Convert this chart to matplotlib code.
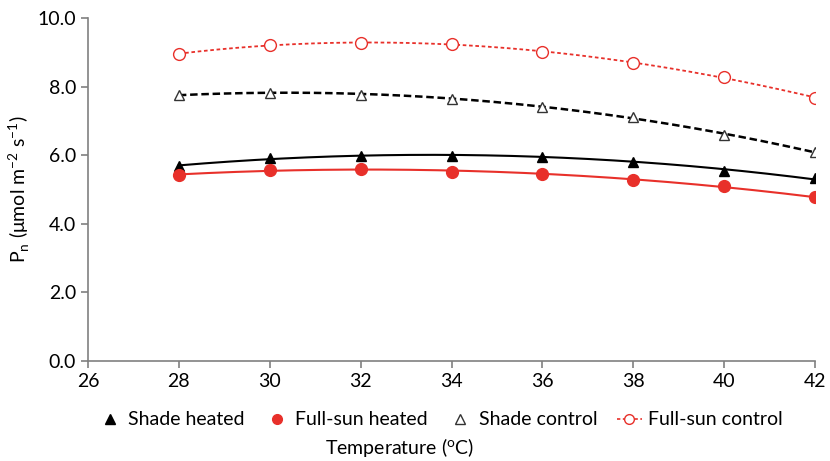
import numpy as np
import matplotlib
matplotlib.use("Agg")
import matplotlib.pyplot as plt
from matplotlib.lines import Line2D

plt.rcParams['font.family'] = ['Lato', 'DejaVu Sans']

temps = [28, 30, 32, 34, 36, 38, 40, 42]
shade_heated = [5.67, 5.93, 5.99, 5.99, 5.96, 5.81, 5.55, 5.32]
fullsun_heated = [5.41, 5.58, 5.61, 5.52, 5.44, 5.29, 5.09, 4.77]
shade_control = [7.76, 7.82, 7.76, 7.65, 7.41, 7.12, 6.60, 6.08]
fullsun_control = [8.95, 9.22, 9.27, 9.24, 9.01, 8.69, 8.28, 7.67]

xticks = [26, 28, 30, 32, 34, 36, 38, 40, 42]
yticks = [0, 2, 4, 6, 8, 10]

fig = plt.figure(figsize=(8.3, 4.61), dpi=100)
ax = fig.add_axes([0.106, 0.217, 0.876, 0.744])

RED = '#e8302a'
xs = np.linspace(28, 42, 200)

def quad(y):
    c = np.polyfit(temps, y, 2)
    return np.polyval(c, xs)

ax.plot(xs, quad(shade_heated), color='black', lw=1.5, zorder=2)
ax.plot(xs, quad(fullsun_heated), color=RED, lw=1.5, zorder=2)
ax.plot(xs, quad(shade_control), color='black', lw=1.8, ls=(0, (3, 1.5)), zorder=2)
c3 = np.polyfit(temps, fullsun_control, 3)
ax.plot(xs, np.polyval(c3, xs), color=RED, lw=1.3, ls=(0, (2, 1.5)), zorder=2)

ax.plot(temps, shade_heated, ls='none', marker='^', ms=7.5, color='black', zorder=3)
ax.plot(temps, fullsun_heated, ls='none', marker='o', ms=8.5, color=RED, zorder=3)
ax.plot(temps, shade_control, ls='none', marker='^', ms=7.5, mfc='white', mec='#333333', mew=1, zorder=3)
ax.plot(temps, fullsun_control, ls='none', marker='o', ms=8.5, mfc='white', mec=RED, mew=1, zorder=3)

ax.set_xlim(26, 42)
ax.set_ylim(0, 10)
ax.set_xticks(xticks)
ax.set_xticklabels([str(t) for t in xticks])
ax.set_yticks(yticks)
ax.set_yticklabels([f"{v:.1f}" for v in yticks])
for s in ['top', 'right']:
    ax.spines[s].set_visible(False)
for s in ['left', 'bottom']:
    ax.spines[s].set_color('#808080')
    ax.spines[s].set_linewidth(1.2)
ax.tick_params(axis='both', colors='#808080', labelcolor='black', labelsize=14, length=5, width=1.2)
ax.set_ylabel(r'P$_\mathregular{n}$ ($\mathregular{\mu}$mol m$^\mathregular{-2}$ s$^\mathregular{-1}$)', fontsize=14)

handles = [
    Line2D([], [], ls='none', marker='^', ms=6.5, color='black'),
    Line2D([], [], ls='none', marker='o', ms=7, color=RED),
    Line2D([], [], ls='none', marker='^', ms=6.5, mfc='white', mec='#333333', mew=1),
    Line2D([], [], color=RED, lw=1.2, ls=(0, (2, 1.5)), marker='o', ms=7, mfc='white', mec=RED, mew=1),
]
labels = ['Shade heated', 'Full-sun heated', 'Shade control', 'Full-sun control']
fig.legend(handles, labels, loc='center', bbox_to_anchor=(0.53, 0.089), ncol=4, frameon=False,
           fontsize=14, handlelength=1.3, handletextpad=0.3, columnspacing=1.0)
fig.text(0.482, 0.03, r'Temperature ($\mathregular{^oC}$)', ha='center', va='center', fontsize=14)

fig.savefig('out.png', dpi=100)
